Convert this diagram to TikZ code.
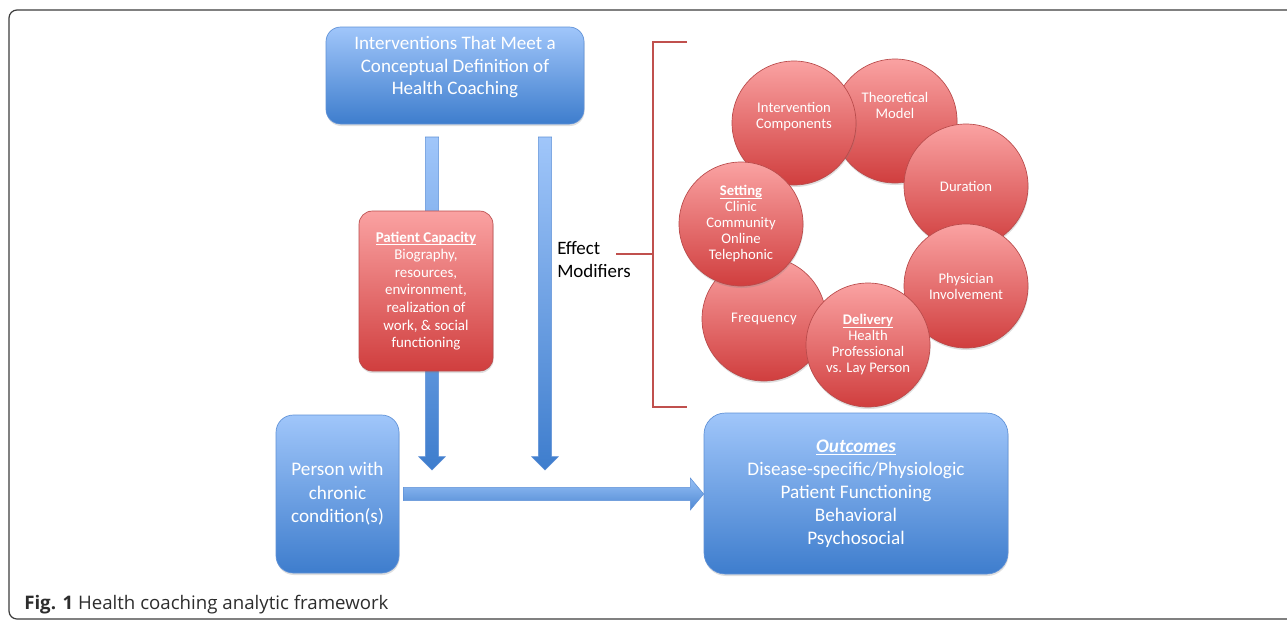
\documentclass[tikz,border=0pt]{standalone}
\usepackage{fontspec}
\setmainfont{Carlito}
\newfontfamily\capfont{Open Sans}
\usetikzlibrary{shadows,calc}
\definecolor{bluetop}{RGB}{160,198,250}
\definecolor{bluebot}{RGB}{62,125,205}
\definecolor{blueline}{RGB}{95,145,215}
\definecolor{redtop}{RGB}{250,162,162}
\definecolor{redbot}{RGB}{208,62,62}
\definecolor{redline}{RGB}{185,75,75}
\definecolor{bracketred}{RGB}{192,80,77}
\definecolor{framegray}{RGB}{60,60,60}
\definecolor{captiongray}{RGB}{45,45,45}
\pgfdeclarelayer{background}
\pgfsetlayers{background,main}
\newcommand\ulined[1]{\underline{\smash{#1}}\vphantom{#1}}
\newcommand\vblockarrow[2]{%
  \path[blockarrow] let \p1=(#1), \p2=(#2) in
  (\x1-5pt,\y1) -- (\x1+5pt,\y1) -- (\x1+5pt,\y2+10pt) -- (\x1+10pt,\y2+10pt) --
  (\x1,\y2) -- (\x1-10pt,\y2+10pt) -- (\x1-5pt,\y2+10pt) -- cycle;}
\newcommand\hblockarrow[2]{%
  \path[blockarrowh] let \p1=(#1), \p2=(#2) in
  (\x1,\y1+5pt) -- (\x2-10pt,\y1+5pt) -- (\x2-10pt,\y1+12pt) -- (\x2,\y1) --
  (\x2-10pt,\y1-12pt) -- (\x2-10pt,\y1-5pt) -- (\x1,\y1-5pt) -- cycle;}
\begin{document}
\begin{tikzpicture}[x=0.75pt,y=-0.75pt,
  shad/.style={drop shadow={opacity=0.25,shadow xshift=0.4pt,shadow yshift=-1.5pt}},
  bluebox/.style={shad,draw=blueline,line width=0.5pt,top color=bluetop,bottom color=bluebot,
    text=white,align=center,inner sep=0pt},
  redbox/.style={shad,draw=redline,line width=0.5pt,top color=redtop,bottom color=redbot,
    text=white,align=center,inner sep=0pt},
  circ/.style={redbox,circle,minimum size=93pt,font=\fontsize{11}{12}\selectfont},
  ctext/.style={text=white,align=center,font=\fontsize{11}{12}\selectfont},
  blockarrow/.style={draw=blueline,line width=0.4pt,top color=bluetop,bottom color=bluebot},
  blockarrowh/.style={draw=blueline,line width=0.4pt,top color={rgb,255:red,150;green,192;blue,245},bottom color={rgb,255:red,78;green,136;blue,212}},
  bracketline/.style={draw=bracketred,line width=2.2pt}]
\useasboundingbox (0,0) rectangle (1287,622);
\begin{pgfonlayer}{background}
\fill[white] (0,0) rectangle (1287,622);
\draw[framegray,line width=0.9pt,rounded corners=6pt] (9,10) rectangle (1300,619);
\end{pgfonlayer}

% main boxes
\node[bluebox,rounded corners=11pt,minimum width=193.5pt,minimum height=72.75pt,
  font=\fontsize{14.3}{17}\selectfont] (top) at (455,75.5)
  {Interventions That Meet a\\Conceptual Definition of\\Health Coaching\\[-2pt]};
\node[redbox,rounded corners=10pt,minimum width=100.5pt,minimum height=120pt,
  font=\fontsize{11.2}{13.2}\selectfont] (cap) at (426,291)
  {\textbf{\ulined{Patient Capacity}}\\Biography,\\resources,\\environment,\\realization of\\work, \& social\\functioning};
\node[bluebox,rounded corners=13pt,minimum width=92.25pt,minimum height=118.5pt,
  font=\fontsize{14.4}{17.6}\selectfont] (person) at (337.5,494)
  {Person with\\chronic\\condition(s)};
\node[bluebox,rounded corners=16pt,minimum width=228pt,minimum height=120.75pt,
  font=\fontsize{14.4}{17.3}\selectfont] (outcomes) at (856,493.5)
  {\textbf{\textit{\ulined{Outcomes}}}\\Disease-specific/Physiologic\\Patient Functioning\\Behavioral\\Psychosocial};

% block arrows
\coordinate (a1s) at (432,137);
\coordinate (a1e) at (432,470);
\coordinate (a2s) at (545,137);
\coordinate (a2e) at (545,470);
\begin{pgfonlayer}{background}
\vblockarrow{a1s}{a1e}
\vblockarrow{a2s}{a2e}
\end{pgfonlayer}
\coordinate (hs) at ([xshift=3pt]person.east);
\hblockarrow{hs}{outcomes.west}

% effect modifiers
\node[anchor=west,align=left,font=\fontsize{14.2}{17}\selectfont,inner sep=0pt] (em) at (557,259.5)
  {Effect\\Modifiers};
\coordinate (tick) at (616,254);
\coordinate (bk) at (653,254);
\coordinate (bt) at (653,42);
\coordinate (bb) at (653,407);
\coordinate (btr) at (687,42);
\coordinate (bbr) at (687,407);
\draw[bracketline] (btr) -- (bt) -- (bb) -- (bbr);
\draw[bracketline,line width=1.8pt] (tick) -- (bk);

% circles
\node[circ] (tm) at (895,121) {};
\node[ctext] at ([yshift=12pt]tm.center) {Theoretical\\Model};
\node[circ] (ic) at (794,123) {};
\node[ctext] at ([yshift=4.5pt]ic.center) {Intervention\\Components};
\node[circ] (dur) at (966,186) {Duration};
\node[circ] (phys) at (966,286) {Physician\\Involvement};
\node[circ] (freq) at (764,319) {{\addfontfeature{LetterSpace=3}Frequency}};
\node[circ] (del) at (868,345)
  {\textbf{\ulined{Delivery}}\\Health\\Professional\\vs. Lay Person};
\node[circ] (set) at (741,224)
  {\textbf{\ulined{Setting}}\\Clinic\\Community\\Online\\Telephonic};

% caption
\node[anchor=west,inner sep=0pt,text=captiongray,font=\capfont\fontsize{14}{16}\selectfont] (cap1) at (24,605)
  {\textbf{Fig. 1} Health coaching analytic framework};
\end{tikzpicture}
\end{document}
